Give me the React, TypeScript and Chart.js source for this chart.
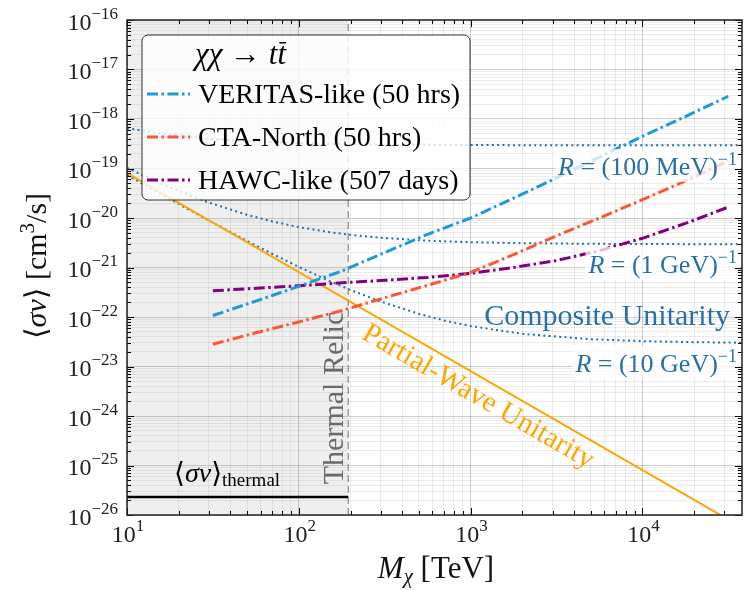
import React, { useEffect, useRef } from 'react';
import { Chart, registerables } from 'chart.js';
Chart.register(...registerables);

const W = 745;
const H = 590;
const SERIF = '"Liberation Serif", "DejaVu Serif", "Times New Roman", serif';
const fnt = (size: number, italic = false) => `${italic ? 'italic ' : ''}${size}px ${SERIF}`;

// ---- data ----
const detectorMass = [31.6, 56.2, 100, 178, 316, 562, 1000, 1778, 3162, 5623, 10000, 17783, 31623];
const veritas = [1.07e-22, 2.09e-22, 4.17e-22, 8.51e-22, 2.0e-21, 4.68e-21, 1.0e-20, 2.51e-20, 6.46e-20, 1.7e-19, 4.47e-19, 1.12e-18, 2.88e-18];
const ctaNorth = [2.82e-23, 4.79e-23, 7.94e-23, 1.35e-22, 2.45e-22, 4.37e-22, 7.94e-22, 1.82e-21, 4.37e-21, 1.0e-20, 2.34e-20, 5.62e-20, 1.41e-19];
const hawc = [3.39e-22, 3.8e-22, 4.27e-22, 4.9e-22, 5.5e-22, 6.31e-22, 7.59e-22, 1.0e-21, 1.38e-21, 2.19e-21, 3.89e-21, 7.76e-21, 1.66e-20];

const compositeMass = [10, 15, 20, 30, 50, 70, 100, 150, 200, 300, 500, 700, 1000, 2000, 5000, 10000, 20000, 40000];
const comp100MeV = [6.55e-19, 5.19e-19, 4.57e-19, 3.99e-19, 3.56e-19, 3.38e-19, 3.25e-19, 3.15e-19, 3.1e-19, 3.05e-19, 3.01e-19, 2.99e-19, 2.98e-19, 2.96e-19, 2.95e-19, 2.95e-19, 2.95e-19, 2.95e-19];
const comp1GeV = [1.03e-19, 5.37e-20, 3.51e-20, 2.05e-20, 1.16e-20, 8.53e-21, 6.55e-21, 5.19e-21, 4.57e-21, 3.99e-21, 3.56e-21, 3.38e-21, 3.25e-21, 3.1e-21, 3.01e-21, 2.98e-21, 2.96e-21, 2.96e-21];
const comp10GeV = [7.38e-20, 3.34e-20, 1.92e-20, 8.86e-21, 3.44e-21, 1.89e-21, 1.03e-21, 5.37e-22, 3.51e-22, 2.05e-22, 1.16e-22, 8.53e-23, 6.55e-23, 4.57e-23, 3.56e-23, 3.25e-23, 3.1e-23, 3.02e-23];

const partialWaveMass = [10, 40000];
const partialWave = [8.1e-20, 5.06e-27];

const thermalMass = [10, 194];
const thermalSigma = [2.3e-26, 2.3e-26];
const relicMass = 194;

const xMin = 10, xMax = 38000, yMin = 1e-26, yMax = 1e-16;
const xTickExps = [1, 2, 3, 4];
const yTickExps = [-26, -25, -24, -23, -22, -21, -20, -19, -18, -17, -16];

const legendItems = [
  { label: 'VERITAS-like (50 hrs)', color: '#1f9ad9' },
  { label: 'CTA-North (50 hrs)', color: '#ff5533' },
  { label: 'HAWC-like (507 days)', color: '#800080' },
];

const DASHDOT = [11, 3.5, 2.5, 3.5];
const DOTTED = [2, 3.3];
const BLUE_TXT = '#2a70a8';
const DOT_BLUE = '#1f6fae';

function logTicks(min: number, max: number) {
  const out: { value: number }[] = [];
  const e0 = Math.floor(Math.log10(min));
  const e1 = Math.ceil(Math.log10(max));
  for (let e = e0; e <= e1; e++) {
    for (let k = 1; k <= 9; k++) {
      const v = k * Math.pow(10, e);
      if (v >= min * (1 - 1e-9) && v <= max * (1 + 1e-9)) out.push({ value: v });
    }
  }
  return out;
}
const isMajor = (v: number) => Math.abs(Math.log10(v) - Math.round(Math.log10(v))) < 1e-6;

type Seg = { t: string; font: string; dy?: number; bar?: boolean };
function measureRich(ctx: CanvasRenderingContext2D, segs: Seg[]) {
  let w = 0;
  for (const s of segs) { ctx.font = s.font; w += ctx.measureText(s.t).width; }
  return w;
}
function drawRich(ctx: CanvasRenderingContext2D, segs: Seg[], x: number, y: number, align: 'left' | 'right' | 'center') {
  const w = measureRich(ctx, segs);
  let cx = align === 'left' ? x : align === 'right' ? x - w : x - w / 2;
  ctx.textAlign = 'left';
  for (const s of segs) {
    ctx.font = s.font;
    const sw = ctx.measureText(s.t).width;
    ctx.fillText(s.t, cx, y + (s.dy || 0));
    if (s.bar) ctx.fillRect(cx + 2, y + (s.dy || 0) - 22, sw - 2, 1.5);
    cx += sw;
  }
  return w;
}
const expStr = (e: number) => (e < 0 ? '\u2212' + Math.abs(e) : String(e));

function rSegs(inner: string): Seg[] {
  return [
    { t: 'R', font: fnt(26, true) },
    { t: ' = (' + inner + ')', font: fnt(26) },
    { t: '\u22121', font: fnt(18), dy: -10 },
  ];
}

const decor = {
  id: 'decor',
  beforeDatasetsDraw(chart: any) {
    const { ctx, chartArea: a } = chart;
    const xr = chart.scales.x.getPixelForValue(relicMass);
    ctx.save();
    ctx.fillStyle = 'rgba(128,128,128,0.13)';
    ctx.fillRect(a.left, a.top, xr - a.left, a.bottom - a.top);
    ctx.restore();
  },
  afterDatasetsDraw(chart: any) {
    const { ctx, chartArea: a } = chart;
    const xs = chart.scales.x, ys = chart.scales.y;
    ctx.save();
    ctx.textBaseline = 'alphabetic';

    // R labels with translucent boxes
    const rLabels: [string, number][] = [['100 MeV', 175], ['1 GeV', 273], ['10 GeV', 372]];
    for (const [inner, by] of rLabels) {
      const segs = rSegs(inner);
      const w = measureRich(ctx, segs);
      ctx.fillStyle = 'rgba(255,255,255,0.75)';
      ctx.fillRect(737 - w - 3, by - 26, w + 6, 33);
      ctx.fillStyle = BLUE_TXT;
      drawRich(ctx, segs, 737, by, 'right');
    }
    ctx.fillStyle = BLUE_TXT;
    drawRich(ctx, [{ t: 'Composite Unitarity', font: fnt(30) }], 730, 325, 'right');

    // Partial-wave label along the line
    const p1x = xs.getPixelForValue(partialWaveMass[0]), p1y = ys.getPixelForValue(partialWave[0]);
    const p2x = xs.getPixelForValue(partialWaveMass[1]), p2y = ys.getPixelForValue(partialWave[1]);
    const ang = Math.atan2(p2y - p1y, p2x - p1x);
    ctx.save();
    ctx.translate(478, 397);
    ctx.rotate(ang);
    ctx.fillStyle = '#ffa500';
    ctx.font = fnt(29);
    ctx.textAlign = 'center';
    ctx.textBaseline = 'middle';
    ctx.fillText('Partial-Wave Unitarity', 0, 0);
    ctx.restore();

    // Thermal relic label
    ctx.save();
    ctx.translate(343, 398);
    ctx.rotate(-Math.PI / 2);
    ctx.fillStyle = '#6a6a6a';
    ctx.font = fnt(30);
    ctx.textAlign = 'center';
    ctx.fillText('Thermal Relic', 0, 0);
    ctx.restore();

    // <sigma v>_thermal
    ctx.fillStyle = '#000';
    drawRich(ctx, [
      { t: '\u27E8', font: fnt(28) },
      { t: '\u03C3v', font: fnt(28, true) },
      { t: '\u27E9', font: fnt(28) },
      { t: 'thermal', font: fnt(19), dy: 4 },
    ], 174, 482, 'left');

    // Legend
    ctx.save();
    ctx.beginPath();
    (ctx as any).roundRect(142, 35, 328, 165, 6);
    ctx.fillStyle = 'rgba(255,255,255,0.8)';
    ctx.fill();
    ctx.strokeStyle = 'rgba(0,0,0,0.8)';
    ctx.lineWidth = 1;
    ctx.stroke();
    ctx.restore();
    ctx.fillStyle = '#000';
    drawRich(ctx, [
      { t: '\u03C7\u03C7', font: fnt(31, true) },
      { t: ' \u2192 ', font: fnt(31) },
      { t: 't', font: fnt(31, true) },
      { t: 't', font: fnt(31, true), bar: true },
    ], 195, 64, 'left');
    const rows = [94, 137, 180];
    legendItems.forEach((it, i) => {
      ctx.save();
      ctx.strokeStyle = it.color;
      ctx.lineWidth = 3;
      ctx.setLineDash(DASHDOT);
      ctx.beginPath();
      ctx.moveTo(147, rows[i]);
      ctx.lineTo(190, rows[i]);
      ctx.stroke();
      ctx.restore();
      ctx.fillStyle = '#000';
      ctx.font = fnt(28);
      ctx.textAlign = 'left';
      ctx.fillText(it.label, 198, rows[i] + 9);
    });

    // Ticks (inward) on all sides
    ctx.strokeStyle = '#000';
    ctx.lineWidth = 1;
    ctx.beginPath();
    for (const t of xs.ticks) {
      const px = Math.round(xs.getPixelForValue(t.value)) + 0.5;
      const L = isMajor(t.value) ? 7 : 4;
      ctx.moveTo(px, a.bottom); ctx.lineTo(px, a.bottom - L);
      ctx.moveTo(px, a.top); ctx.lineTo(px, a.top + L);
    }
    for (const t of ys.ticks) {
      const py = Math.round(ys.getPixelForValue(t.value)) + 0.5;
      const L = isMajor(t.value) ? 7 : 4;
      ctx.moveTo(a.left, py); ctx.lineTo(a.left + L, py);
      ctx.moveTo(a.right, py); ctx.lineTo(a.right - L, py);
    }
    ctx.stroke();
    // Frame
    ctx.strokeStyle = '#222';
    ctx.lineWidth = 1.5;
    ctx.strokeRect(a.left, a.top, a.right - a.left, a.bottom - a.top);

    // Tick labels
    ctx.fillStyle = '#222';
    for (const e of yTickExps) {
      const py = ys.getPixelForValue(Math.pow(10, e));
      drawRich(ctx, [{ t: '10', font: fnt(24) }, { t: expStr(e), font: fnt(17), dy: -11 }], 118, py + 9.5, 'right');
    }
    for (const e of xTickExps) {
      const px = xs.getPixelForValue(Math.pow(10, e));
      drawRich(ctx, [{ t: '10', font: fnt(24) }, { t: expStr(e), font: fnt(17), dy: -11 }], px + 1, 542, 'center');
    }

    // Axis titles
    ctx.fillStyle = '#111';
    drawRich(ctx, [
      { t: 'M', font: fnt(31, true) },
      { t: '\u03C7', font: fnt(21, true), dy: 5 },
      { t: ' [TeV]', font: fnt(31) },
    ], 436, 578, 'center');
    ctx.save();
    ctx.translate(46, 266);
    ctx.rotate(-Math.PI / 2);
    drawRich(ctx, [
      { t: '\u27E8', font: fnt(30) },
      { t: '\u03C3v', font: fnt(30, true) },
      { t: '\u27E9 [cm', font: fnt(30) },
      { t: '3', font: fnt(21), dy: -12 },
      { t: '/s]', font: fnt(30) },
    ], 0, 0, 'center');
    ctx.restore();

    ctx.restore();
  },
};

function pts(xa: number[], ya: number[]) {
  return xa.map((m, i) => ({ x: m, y: ya[i] }));
}

export default function App() {
  const ref = useRef<HTMLCanvasElement | null>(null);
  useEffect(() => {
    document.body.style.margin = '0';
    const canvas = ref.current!;
    const base = { pointRadius: 0, pointHoverRadius: 0, fill: false, tension: 0, showLine: true };
    const gridColor = (c: any) => (c.tick && isMajor(c.tick.value) ? 'rgba(0,0,0,0.2)' : 'rgba(0,0,0,0.075)');
    const chart = new Chart(canvas, {
      type: 'line',
      data: {
        datasets: [
          { ...base, label: legendItems[0].label, data: pts(detectorMass, veritas), borderColor: legendItems[0].color, borderWidth: 3, borderDash: DASHDOT },
          { ...base, label: legendItems[1].label, data: pts(detectorMass, ctaNorth), borderColor: legendItems[1].color, borderWidth: 3, borderDash: DASHDOT },
          { ...base, label: legendItems[2].label, data: pts(detectorMass, hawc), borderColor: legendItems[2].color, borderWidth: 3, borderDash: DASHDOT },
          { ...base, label: 'Partial-Wave Unitarity', data: pts(partialWaveMass, partialWave), borderColor: '#ffa500', borderWidth: 2 },
          { ...base, label: 'R=(100 MeV)^-1', data: pts(compositeMass, comp100MeV), borderColor: DOT_BLUE, borderWidth: 2, borderDash: DOTTED },
          { ...base, label: 'R=(1 GeV)^-1', data: pts(compositeMass, comp1GeV), borderColor: DOT_BLUE, borderWidth: 2, borderDash: DOTTED },
          { ...base, label: 'R=(10 GeV)^-1', data: pts(compositeMass, comp10GeV), borderColor: DOT_BLUE, borderWidth: 2, borderDash: DOTTED },
          { ...base, label: 'thermal', data: pts(thermalMass, thermalSigma), borderColor: '#000', borderWidth: 2.5 },
          { ...base, label: 'relic', data: [{ x: relicMass, y: yMin }, { x: relicMass, y: yMax }], borderColor: '#8a8a8a', borderWidth: 1.2, borderDash: [7, 4] },
        ],
      },
      options: {
        animation: false,
        responsive: false,
        devicePixelRatio: 1,
        layout: { padding: { left: 0, top: 20, right: 3, bottom: 0 } },
        plugins: { legend: { display: false }, tooltip: { enabled: false } },
        scales: {
          x: {
            type: 'logarithmic', min: xMin, max: xMax,
            afterBuildTicks: (s: any) => { s.ticks = logTicks(xMin, xMax); },
            afterFit: (s: any) => { s.height = 75; },
            ticks: { display: false },
            grid: { color: gridColor, drawTicks: false, lineWidth: 1 },
            border: { display: false },
          },
          y: {
            type: 'logarithmic', min: yMin, max: yMax,
            afterBuildTicks: (s: any) => { s.ticks = logTicks(yMin, yMax); },
            afterFit: (s: any) => { s.width = 127; },
            ticks: { display: false },
            grid: { color: gridColor, drawTicks: false, lineWidth: 1 },
            border: { display: false },
          },
        },
      } as any,
      plugins: [decor as any],
    });
    return () => chart.destroy();
  }, []);
  return (
    <div style={{ width: W, height: H }}>
      <canvas ref={ref} width={W} height={H} style={{ display: 'block' }} />
    </div>
  );
}
